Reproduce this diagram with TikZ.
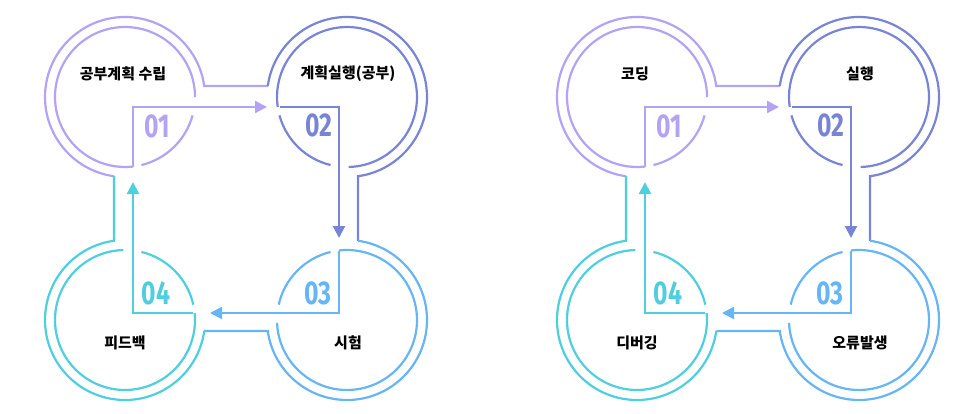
\documentclass[tikz,border=0pt]{standalone}
\usepackage{fontspec}
\newfontfamily\krfont{Noto Sans CJK KR}
\newfontfamily\numfont{Fira Sans}
\usetikzlibrary{calc}
\usetikzlibrary{arrows.meta}
\definecolor{cpurple}{HTML}{B4A2F5}
\definecolor{cindigo}{HTML}{7A84D6}
\definecolor{cblue}{HTML}{66B5F7}
\definecolor{ccyan}{HTML}{4ECFE0}
\begin{document}
\begin{tikzpicture}[x=1pt,y=1pt,line width=2.2pt,
		arr/.style={-{Triangle[length=12pt,width=12pt]}},
		num/.style={font=\numfont\fontsize{33}{33}\selectfont\bfseries,xscale=.75},
		lbl/.style={font=\krfont\fontsize{15}{15}\selectfont\bfseries}]
		\useasboundingbox (0,0) rectangle (968,413);
		
		\foreach \dx/\ta/\tb/\tc/\td in {0/공부계획 수립/계획실행(공부)/시험/피드백,
			512/코딩/실행/오류발생/디버깅}{
		\begin{scope}[xshift=\dx pt]
		\coordinate (A) at (125,316);
		\coordinate (B) at (347,316);
		\coordinate (C) at (347,93);
		\coordinate (D) at (125,93);
		
		% outer contour
		\draw[cpurple] ($(A)+(262.1:80)$) arc[start angle=262.1,end angle=7.9,radius=80] -- ($(B)+(172.1:80)$);
		\draw[cindigo] ($(B)+(172.1:80)$) arc[start angle=172.1,end angle=-82.1,radius=80] -- ($(C)+(82.1:80)$);
		\draw[cblue] ($(C)+(82.1:80)$) arc[start angle=82.1,end angle=-172.1,radius=80] -- ($(D)+(-7.9:80)$);
		\draw[ccyan] ($(D)+(-7.9:80)$) arc[start angle=-7.9,end angle=-262.1,radius=80] -- ($(A)+(-97.9:80)$);
		
		% inner rings
		\foreach \p/\s/\c/\col in {A/-83.4/-8.2/cpurple,B/188.2/263.4/cindigo,
			C/96.6/174.3/cblue,D/5.7/83.4/ccyan}{
			\draw[\col] ($(\p)+({\c+8}:70)$) arc[start angle=\c+8,end angle=\s+360,radius=70];
			\draw[\col] ($(\p)+({\s+7}:70)$) arc[start angle=\s+7,end angle=\c-7,radius=70];
		}
		
		% arrows
		\coordinate (a0) at (133,246);
		\coordinate (a2) at (267,306);
		\coordinate (b0) at (280,306);
		\coordinate (b2) at (339,175);
		\coordinate (c0) at (339,162);
		\coordinate (c2) at (210,100);
		\coordinate (d0) at (193,100);
		\coordinate (d2) at (133,231);
		\draw[arr,cpurple] (a0) |- (a2);
		\draw[arr,cindigo] (b0) -| (b2);
		\draw[arr,cblue] (c0) |- (c2);
		\draw[arr,ccyan] (d0) -| (d2);
		
		\node[num,text=cpurple] (n1) at (157,287) {01};
		\node[num,text=cindigo] (n2) at (319,288) {02};
		\node[num,text=cblue]   (n3) at (318,120) {03};
		\node[num,text=ccyan]   (n4) at (156,120) {04};
		
		\node[lbl] (l1) at (123,339) {\ta};
		\node[lbl] (l2) at (348,339) {\tb};
		\node[lbl] (l3) at (348,70)  {\tc};
		\node[lbl] (l4) at (125,70)  {\td};
		\end{scope}
		}
\end{tikzpicture}
\end{document}
